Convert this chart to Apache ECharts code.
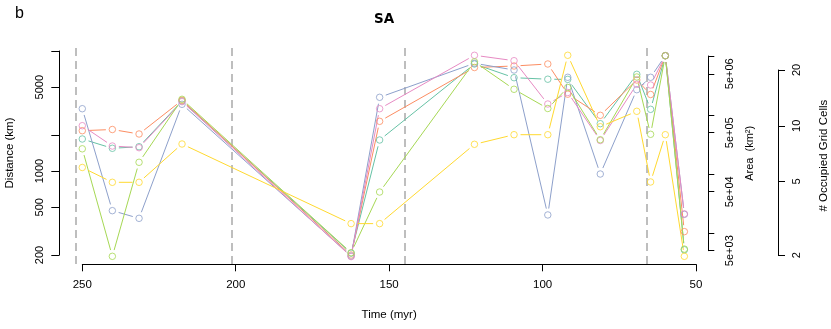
<!DOCTYPE html>
<html><head><meta charset="utf-8">
<script src="https://cdn.jsdelivr.net/npm/echarts@6/dist/echarts.min.js"></script>
<style>html,body{margin:0;padding:0;background:#fff}#c{width:831px;height:329px}</style>
</head><body><div id="c"></div>
<script>
// ---- data ----
const times = [250, 240.2, 231.5, 217.5, 162.4, 153.1, 122.2, 109.3, 98.3, 91.8, 81.2, 69.3, 64.8, 60, 53.8];
const tealVals   = [1849, 1547, 1595, 3830, 207, 1814, 7788, 5988, 5818, 5800, 2480, 6392, 3266, 9132, 221];
const orangeVals = [2168, 2218, 2035, 3882, 200, 2595, 7281, 7494, 7788, 4366, 2911, 5730, 4341, 9132, 313];
const blueVals   = [3304, 468, 404, 3596, 196, 4112, 7894, 6942, 431, 6035, 945, 4758, 6035, 9132, 436];
const pinkVals   = [2386, 1616, 1565, 3780, 194, 3304, 9202, 8296, 3616, 4508, 1796, 5276, 5206, 9132, 440];
const greenVals  = [1532, 195, 1183, 3958, 209, 669, 8122, 4795, 3318, 4962, 1824, 6070, 2023, 9132, 224];
const yellowVals = [1071, 806, 806, 1680, 365, 365, 1670, 2008, 2008, 9202, 2340, 3144, 811, 2008, 195];
const seriesVals = [tealVals, orangeVals, blueVals, pinkVals, greenVals, yellowVals];
const seriesColors = ['#66C2A5', '#FC8D62', '#8DA0CB', '#E78AC3', '#A6D854', '#FFD92F'];
const boundaries = [252.17, 201.3, 145, 66];
const xTicks = [250, 200, 150, 100, 50];
const distTicks = [200, 500, 1000, 2000, 5000, 10000];
const distLabels = [200, 500, 1000, 5000];
const areaTicks = [5e3, 1e4, 5e4, 1e5, 5e5, 1e6, 5e6, 1e7];
const areaLabelValues = [5e3, 5e4, 5e5, 5e6];
const areaLabels = ['5e+03', '5e+04', '5e+05', '5e+06'];
const cellTicks = [2, 5, 10, 20];

// ---- chart ----
const FONT = '"Liberation Sans", Arial, Helvetica, sans-serif';
const lg = Math.log10;
const chart = echarts.init(document.getElementById('c'));

const series = [];
seriesVals.forEach((vals, si) => {
  const col = seriesColors[si];
  const segs = [];
  for (let i = 0; i < times.length - 1; i++) {
    segs.push([times[i], lg(vals[i]), times[i + 1], lg(vals[i + 1])]);
  }
  series.push({
    type: 'custom', xAxisIndex: 0, yAxisIndex: 0, silent: true, z: 2,
    data: segs, encode: { x: [0, 2], y: [1, 3] },
    renderItem: function (params, api) {
      const p1 = api.coord([api.value(0), api.value(1)]);
      const p2 = api.coord([api.value(2), api.value(3)]);
      const dx = p2[0] - p1[0], dy = p2[1] - p1[1];
      const len = Math.sqrt(dx * dx + dy * dy);
      const gap = 6.5;
      if (len <= 2 * gap) return null;
      const ux = dx / len, uy = dy / len;
      return {
        type: 'line',
        shape: { x1: p1[0] + ux * gap, y1: p1[1] + uy * gap, x2: p2[0] - ux * gap, y2: p2[1] - uy * gap },
        style: { stroke: col, lineWidth: 1 }
      };
    }
  });
  series.push({
    type: 'scatter', xAxisIndex: 0, yAxisIndex: 0, silent: true, z: 3,
    symbol: 'circle', symbolSize: 6.5,
    itemStyle: { color: 'rgba(255,255,255,0)', borderColor: col, borderWidth: 1 },
    data: times.map((t, i) => [t, lg(vals[i])])
  });
});
series[0].markLine = {
  silent: true, symbol: 'none', z: 1, animation: false,
  label: { show: false },
  lineStyle: { color: '#BEBEBE', type: [8, 5], width: 2 },
  data: boundaries.map(b => ({ xAxis: b }))
};

const txt = { color: '#000', fontFamily: FONT };

chart.setOption({
  animation: false,
  backgroundColor: '#fff',
  grid: [
    { left: 51.6, width: 675.1, top: 46, height: 218 },
    { left: 59.3, width: 1, top: 51, height: 204 },
    { left: 82.3, width: 613.7, top: 263.3, height: 1 },
    { left: 708.3, width: 1, top: 56, height: 194.7 },
    { left: 778, width: 1, top: 70, height: 185.3 }
  ],
  xAxis: [
    { gridIndex: 0, type: 'value', min: 40, max: 260, inverse: true, show: false },
    { gridIndex: 1, type: 'value', min: 0, max: 1, show: false },
    { gridIndex: 2, type: 'value', min: 50, max: 250, interval: 50, inverse: true, position: 'bottom',
      axisLine: { show: true, lineStyle: { color: '#000', width: 1 } },
      axisTick: { show: true, length: 7, lineStyle: { color: '#000' }, customValues: xTicks },
      axisLabel: Object.assign({ show: true, margin: 15, fontSize: 11.5, customValues: xTicks }, txt),
      splitLine: { show: false },
      name: 'Time (myr)', nameLocation: 'middle', nameGap: 45,
      nameTextStyle: Object.assign({ fontSize: 11.5 }, txt) },
    { gridIndex: 3, type: 'value', min: 0, max: 1, show: false },
    { gridIndex: 4, type: 'value', min: 0, max: 1, show: false }
  ],
  yAxis: [
    { gridIndex: 0, type: 'value', min: 2.22609, max: 4.04125, show: false },
    { gridIndex: 1, type: 'value', position: 'left', min: lg(200), max: 4,
      axisLine: { show: true, lineStyle: { color: '#000', width: 1 } },
      axisTick: { show: true, length: 8, lineStyle: { color: '#000' }, customValues: distTicks.map(lg) },
      axisLabel: Object.assign({ show: true, rotate: 90, margin: 14, fontSize: 11,
        customValues: distLabels.map(lg),
        formatter: v => String(Math.round(Math.pow(10, v))) }, txt),
      splitLine: { show: false },
      name: 'Distance (km)', nameLocation: 'middle', nameGap: 43,
      nameTextStyle: Object.assign({ fontSize: 11.5 }, txt) },
    { gridIndex: 2, type: 'value', min: 0, max: 1, show: false },
    { gridIndex: 3, type: 'value', position: 'right', min: lg(5e3), max: 7,
      axisLine: { show: true, lineStyle: { color: '#000', width: 1 } },
      axisTick: { show: true, length: 6, lineStyle: { color: '#000' }, customValues: areaTicks.map(lg) },
      axisLabel: Object.assign({ show: true, rotate: 90, margin: 15, fontSize: 11,
        customValues: areaLabelValues.map(lg),
        formatter: v => {
          let best = 0;
          areaLabelValues.forEach((a, i) => { if (Math.abs(lg(a) - v) < Math.abs(lg(areaLabelValues[best]) - v)) best = i; });
          return areaLabels[best];
        } }, txt),
      splitLine: { show: false },
      name: 'Area  (km²)', nameLocation: 'middle', nameGap: 35,
      nameTextStyle: Object.assign({ fontSize: 11 }, txt) },
    { gridIndex: 4, type: 'value', position: 'right', min: lg(2), max: lg(20),
      axisLine: { show: true, lineStyle: { color: '#000', width: 1 } },
      axisTick: { show: true, length: 7, lineStyle: { color: '#000' }, customValues: cellTicks.map(lg) },
      axisLabel: Object.assign({ show: true, rotate: 90, margin: 13, fontSize: 11,
        customValues: cellTicks.map(lg),
        formatter: v => String(Math.round(Math.pow(10, v))) }, txt),
      splitLine: { show: false },
      name: '# Occupied Grid Cells', nameLocation: 'middle', nameGap: 40,
      nameTextStyle: Object.assign({ fontSize: 11.5, padding: [0, 0, 0, 14] }, txt) }
  ],
  graphic: [
    { type: 'text', x: 384, y: 19.3, silent: true,
      style: { text: 'SA', align: 'center', verticalAlign: 'middle', fontSize: 13.5, fontWeight: 'bold', fontFamily: '"DejaVu Sans", sans-serif', fill: '#000' } },
    { type: 'text', x: 15, y: 13.5, silent: true,
      style: { text: 'b', align: 'left', verticalAlign: 'middle', fontSize: 16, fontFamily: FONT, fill: '#000' } }
  ],
  series: series
});
</script>
</body></html>
